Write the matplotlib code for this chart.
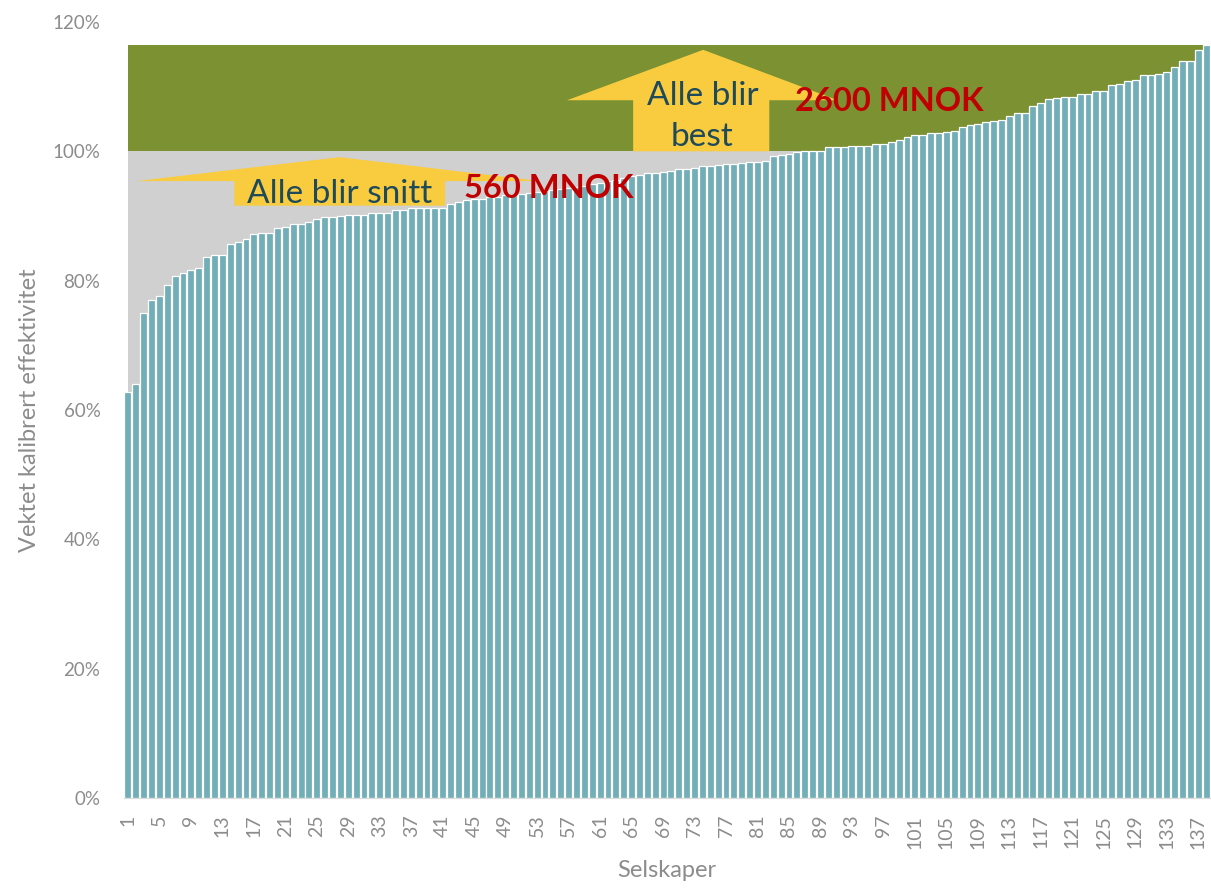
import numpy as np
import matplotlib
matplotlib.use("Agg")
import matplotlib.pyplot as plt
from matplotlib.patches import Polygon

plt.rcParams['font.family'] = ['Lato', 'DejaVu Sans']

# data: vektet kalibrert effektivitet (%) per selskap, sortert
effektivitet = [
    62.8, 64.0, 75.0, 77.0, 77.6, 79.3, 80.7, 81.2, 81.7, 82.0,
    83.6, 83.9, 83.9, 85.6, 86.0, 86.4, 87.2, 87.4, 87.4, 88.1,
    88.3, 88.8, 88.8, 89.1, 89.6, 89.8, 89.9, 90.0, 90.1, 90.2,
    90.2, 90.4, 90.4, 90.4, 91.0, 91.0, 91.2, 91.2, 91.2, 91.2,
    91.3, 91.9, 92.2, 92.5, 92.6, 92.7, 92.9, 92.9, 93.2, 93.3,
    93.4, 93.6, 93.7, 93.9, 94.0, 94.1, 94.3, 94.5, 94.7, 94.9,
    95.1, 95.4, 95.6, 95.9, 96.2, 96.4, 96.6, 96.7, 96.8, 96.9,
    97.3, 97.3, 97.5, 97.8, 97.8, 97.9, 98.0, 98.1, 98.2, 98.3,
    98.4, 98.5, 99.3, 99.5, 99.6, 99.9, 100.0, 100.0, 100.1, 100.6,
    100.6, 100.7, 100.8, 100.8, 100.9, 101.1, 101.2, 101.5, 101.8, 102.2,
    102.6, 102.6, 102.8, 102.9, 103.0, 103.2, 103.8, 104.1, 104.3, 104.5,
    104.7, 104.9, 105.5, 105.9, 105.9, 107.0, 107.5, 108.1, 108.3, 108.4,
    108.4, 108.8, 108.9, 109.3, 109.3, 110.3, 110.4, 110.9, 111.0, 111.8,
    111.8, 111.9, 112.3, 113.0, 113.9, 114.0, 115.6, 116.4,
]
selskap = list(range(1, len(effektivitet) + 1))
snitt_niva = [100.0] * len(selskap)
best_niva = [max(effektivitet)] * len(selskap)
tick_labels = [str(k) for k in selskap[::4]]

# farger
c_bar = '#72AEB8'
c_grey = '#D0D0D0'
c_green = '#7B9132'
c_yellow = '#F9CC40'
c_text = '#1F4A5A'
c_red = '#C00000'
c_axis = '#8C8C8C'

fig = plt.figure(figsize=(12.11, 8.88), dpi=100)
ax = fig.add_axes([124 / 1211, 1 - 798 / 888, 1086 / 1211, 776 / 888])

# bakgrunnsflater
ax.fill_between(selskap, 0, snitt_niva, color=c_grey, zorder=1, linewidth=0)
ax.fill_between(selskap, snitt_niva, best_niva, color=c_green, zorder=1, linewidth=0)

# søyler
ax.bar(selskap, effektivitet, width=0.88, color=c_bar, edgecolor='white',
       linewidth=0.9, zorder=2)

# pil 1: "Alle blir snitt"
pil1 = [(2.1, 95.4), (27.9, 99.1), (53.4, 95.4), (41.3, 95.4), (41.3, 91.6),
        (14.5, 91.6), (14.5, 95.4)]
ax.add_patch(Polygon(pil1, closed=True, facecolor=c_yellow, edgecolor='none', zorder=3))
ax.text(27.9, 93.4, 'Alle blir snitt', fontsize=24, color=c_text,
        ha='center', va='center', zorder=4)

# pil 2: "Alle blir best"
pil2 = [(56.8, 107.9), (74.1, 115.7), (91.2, 107.9), (82.5, 107.9), (82.5, 100.0),
        (65.2, 100.0), (65.2, 107.9)]
ax.add_patch(Polygon(pil2, closed=True, facecolor=c_yellow, edgecolor='none', zorder=3))
ax.text(74.0, 105.4, 'Alle blir\nbest', fontsize=24, color=c_text,
        ha='center', va='center', linespacing=1.45, zorder=4)

ax.text(54.5, 94.3, '560 MNOK', fontsize=23.5, fontweight='bold', color=c_red,
        ha='center', va='center', zorder=5)
ax.text(97.8, 107.7, '2600 MNOK', fontsize=23.5, fontweight='bold', color=c_red,
        ha='center', va='center', zorder=5)

# akser
ax.set_xlim(0.5, len(selskap) + 0.5)
ax.set_ylim(0, 120)
ax.set_yticks(range(0, 121, 20))
ax.set_yticklabels([f'{v}%' for v in range(0, 121, 20)])
ax.set_xticks(selskap[::4])
ax.set_xticklabels(tick_labels, rotation=90)
ax.tick_params(axis='y', length=0, pad=17, labelsize=13.5, labelcolor=c_axis)
ax.tick_params(axis='x', length=0, pad=12, labelsize=14, labelcolor=c_axis)

for s in ['top', 'right', 'left']:
    ax.spines[s].set_visible(False)
ax.spines['bottom'].set_color('#D9D9D9')
ax.spines['bottom'].set_zorder(3)

ax.set_ylabel('Vektet kalibrert effektivitet', fontsize=17, color=c_axis)
ax.yaxis.set_label_coords(-84 / 1086, 0.5)
ax.set_xlabel('Selskaper', fontsize=17, color=c_axis)
ax.xaxis.set_label_coords(0.5, -62 / 776)

fig.savefig('out.png', dpi=100)
